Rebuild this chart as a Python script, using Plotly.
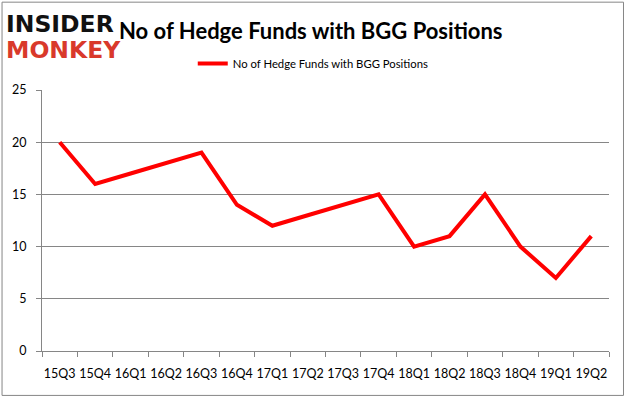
import plotly.graph_objects as go

quarters = ["15Q3", "15Q4", "16Q1", "16Q2", "16Q3", "16Q4", "17Q1", "17Q2",
            "17Q3", "17Q4", "18Q1", "18Q2", "18Q3", "18Q4", "19Q1", "19Q2"]
funds = [20, 16, 17, 18, 19, 14, 12, 13, 14, 15, 10, 11, 15, 10, 7, 11]
series_name = "No of Hedge Funds with BGG Positions"

W, H = 626, 397
L, R, T, B = 41.5, 609, 89.5, 351
PW, PH = R - L, B - T


def px(x):
    return (x - L) / PW


def py(y):
    return (B - y) / PH


fig = go.Figure()
fig.add_trace(go.Scatter(x=quarters, y=funds, mode="lines", name=series_name,
                         line=dict(color="#ff0000", width=4)))

font_family = "Lato, Carlito, 'Open Sans', sans-serif"
logo_font = "'DejaVu Sans', sans-serif"
fig.update_layout(
    width=W, height=H,
    margin=dict(l=L, r=W - R, t=T, b=H - B, autoexpand=False),
    paper_bgcolor="white", plot_bgcolor="white",
    font=dict(family=font_family, size=12, color="#000000"),
    showlegend=True,
    legend=dict(orientation="h", x=px(313), xanchor="center", y=py(63), yanchor="middle",
                font=dict(size=11.3, family=font_family), bgcolor="rgba(0,0,0,0)"),
    xaxis=dict(type="category", tickson="boundaries", tickangle=0, automargin=False,
               showline=True, linecolor="#868686", linewidth=1,
               ticks="outside", ticklen=5, tickcolor="#868686", ticklabelstandoff=11,
               showgrid=False, tickfont=dict(size=12.5, color="#000000"),
               range=[-0.5, 15.5], fixedrange=True),
    yaxis=dict(range=[0, 25], dtick=5, automargin=False,
               showline=True, linecolor="#868686", linewidth=1,
               ticks="outside", ticklen=5, tickcolor="#868686", ticklabelstandoff=7,
               showgrid=True, gridcolor="#868686", gridwidth=1,
               zeroline=False, tickfont=dict(size=12.5, color="#000000"),
               fixedrange=True),
    shapes=[dict(type="rect", xref="paper", yref="paper",
                 x0=px(1.5), x1=px(623.5), y0=py(395.5), y1=py(1.5),
                 line=dict(color="#868686", width=1), fillcolor="rgba(0,0,0,0)")],
    annotations=[
        dict(text="<b>No of Hedge Funds with BGG Positions</b>", xref="paper", yref="paper",
             x=px(117), y=py(30), xanchor="left", yanchor="middle", showarrow=False,
             font=dict(size=22, family=font_family, color="#000000")),
        dict(text="<b>INSIDER</b>", xref="paper", yref="paper",
             x=px(3), y=py(23), xanchor="left", yanchor="middle", showarrow=False,
             font=dict(size=23.5, family=logo_font, color="#111111")),
        dict(text="<b>MONKEY</b>", xref="paper", yref="paper",
             x=px(3), y=py(49), xanchor="left", yanchor="middle", showarrow=False,
             font=dict(size=23.5, family=logo_font, color="#d9392b")),
    ],
)
fig.write_html("out.html", config={"displayModeBar": False},
               post_script="document.body.style.margin='0';document.body.style.overflow='hidden';")
